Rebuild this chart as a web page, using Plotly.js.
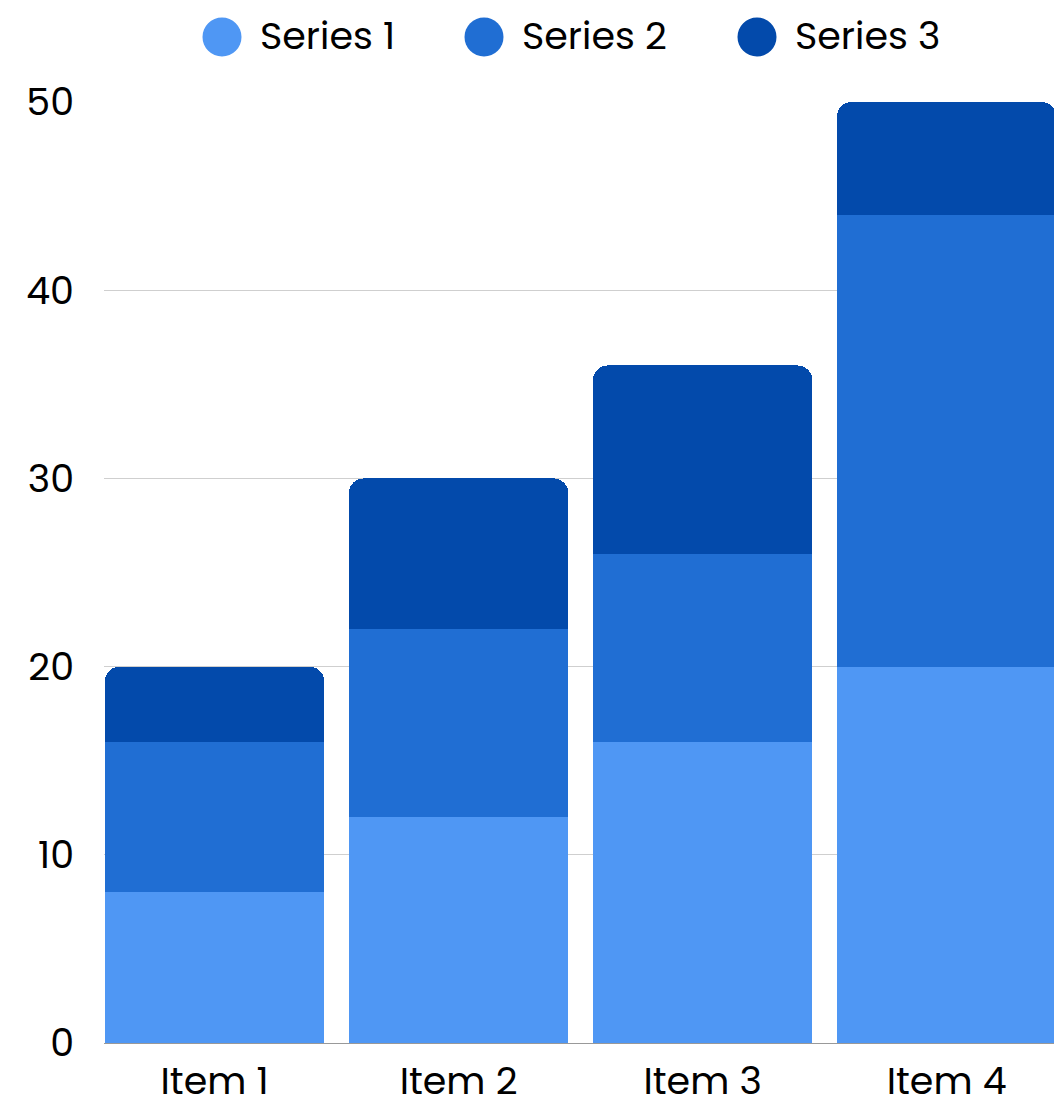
<!DOCTYPE html>
<html>
<head>
<meta charset="utf-8">
<script src="https://cdn.plot.ly/plotly-3.0.1.min.js"></script>
<style>html,body{margin:0;padding:0;background:#fff;}#chart{width:1054px;height:1097px;}</style>
</head>
<body>
<div id="chart"></div>
<script>
const categories = ["Item 1", "Item 2", "Item 3", "Item 4"];
const seriesNames = ["Series 1", "Series 2", "Series 3"];
const series1 = [8, 12, 16, 20];
const series2 = [8, 10, 10, 24];
const series3 = [4, 8, 10, 6];
const seriesColors = ["#4F97F4", "#206ED3", "#034AAB"];
const yTicks = [0, 10, 20, 30, 40, 50];

const FONT = "Poppins, Inter, 'Open Sans', sans-serif";
const values = [series1, series2, series3];

const traces = values.map((v, i) => ({
  type: "bar",
  name: seriesNames[i],
  x: categories,
  y: v,
  marker: {color: seriesColors[i], line: {width: 0}},
  showlegend: false,
  hoverinfo: "x+y+name"
}));

// custom legend (large circles)
const W = 1054, H = 1097, L = 104, R = 0, T = 102, B = 54;
const pw = W - L - R, ph = H - T - B;
const legendCenters = [222, 484, 757];
const legendY = 37;
const shapes = [], annotations = [];
seriesNames.forEach((n, i) => {
  const px = (legendCenters[i] - L) / pw;
  const py = (H - B - legendY) / ph;
  shapes.push({
    type: "circle", xref: "paper", yref: "paper",
    xsizemode: "pixel", ysizemode: "pixel",
    xanchor: px, yanchor: py,
    x0: -19.5, x1: 19.5, y0: -19.5, y1: 19.5,
    fillcolor: seriesColors[i], line: {width: 0}
  });
  annotations.push({
    xref: "paper", yref: "paper",
    x: (legendCenters[i] + 36 - L) / pw, y: (H - B - legendY + 2) / ph,
    xanchor: "left", yanchor: "middle",
    text: n, showarrow: false,
    font: {family: FONT, size: 38, color: "#000"}
  });
});

const layout = {
  width: W, height: H,
  margin: {l: L, r: R, t: T, b: B, pad: 0},
  paper_bgcolor: "#fff", plot_bgcolor: "#fff",
  barmode: "stack",
  bargap: 0.1,
  barcornerradius: 15,
  showlegend: false,
  font: {family: FONT, size: 38, color: "#000"},
  xaxis: {
    type: "category",
    range: [-0.453, 3.44],
    showgrid: false, zeroline: false,
    showline: true, linecolor: "#999", linewidth: 1,
    ticks: "", ticklabelstandoff: 4,
    tickfont: {family: FONT, size: 38, color: "#000"}
  },
  yaxis: {
    range: [0, 50],
    tickvals: yTicks,
    ticktext: yTicks.map(String),
    showgrid: true, gridcolor: "#cfcfcf", gridwidth: 1,
    zeroline: false, showline: false,
    ticks: "", ticklabelstandoff: 29,
    tickfont: {family: FONT, size: 38, color: "#000"}
  },
  shapes: shapes,
  annotations: annotations
};

Plotly.newPlot("chart", traces, layout, {displayModeBar: false, staticPlot: true});
</script>
</body>
</html>
